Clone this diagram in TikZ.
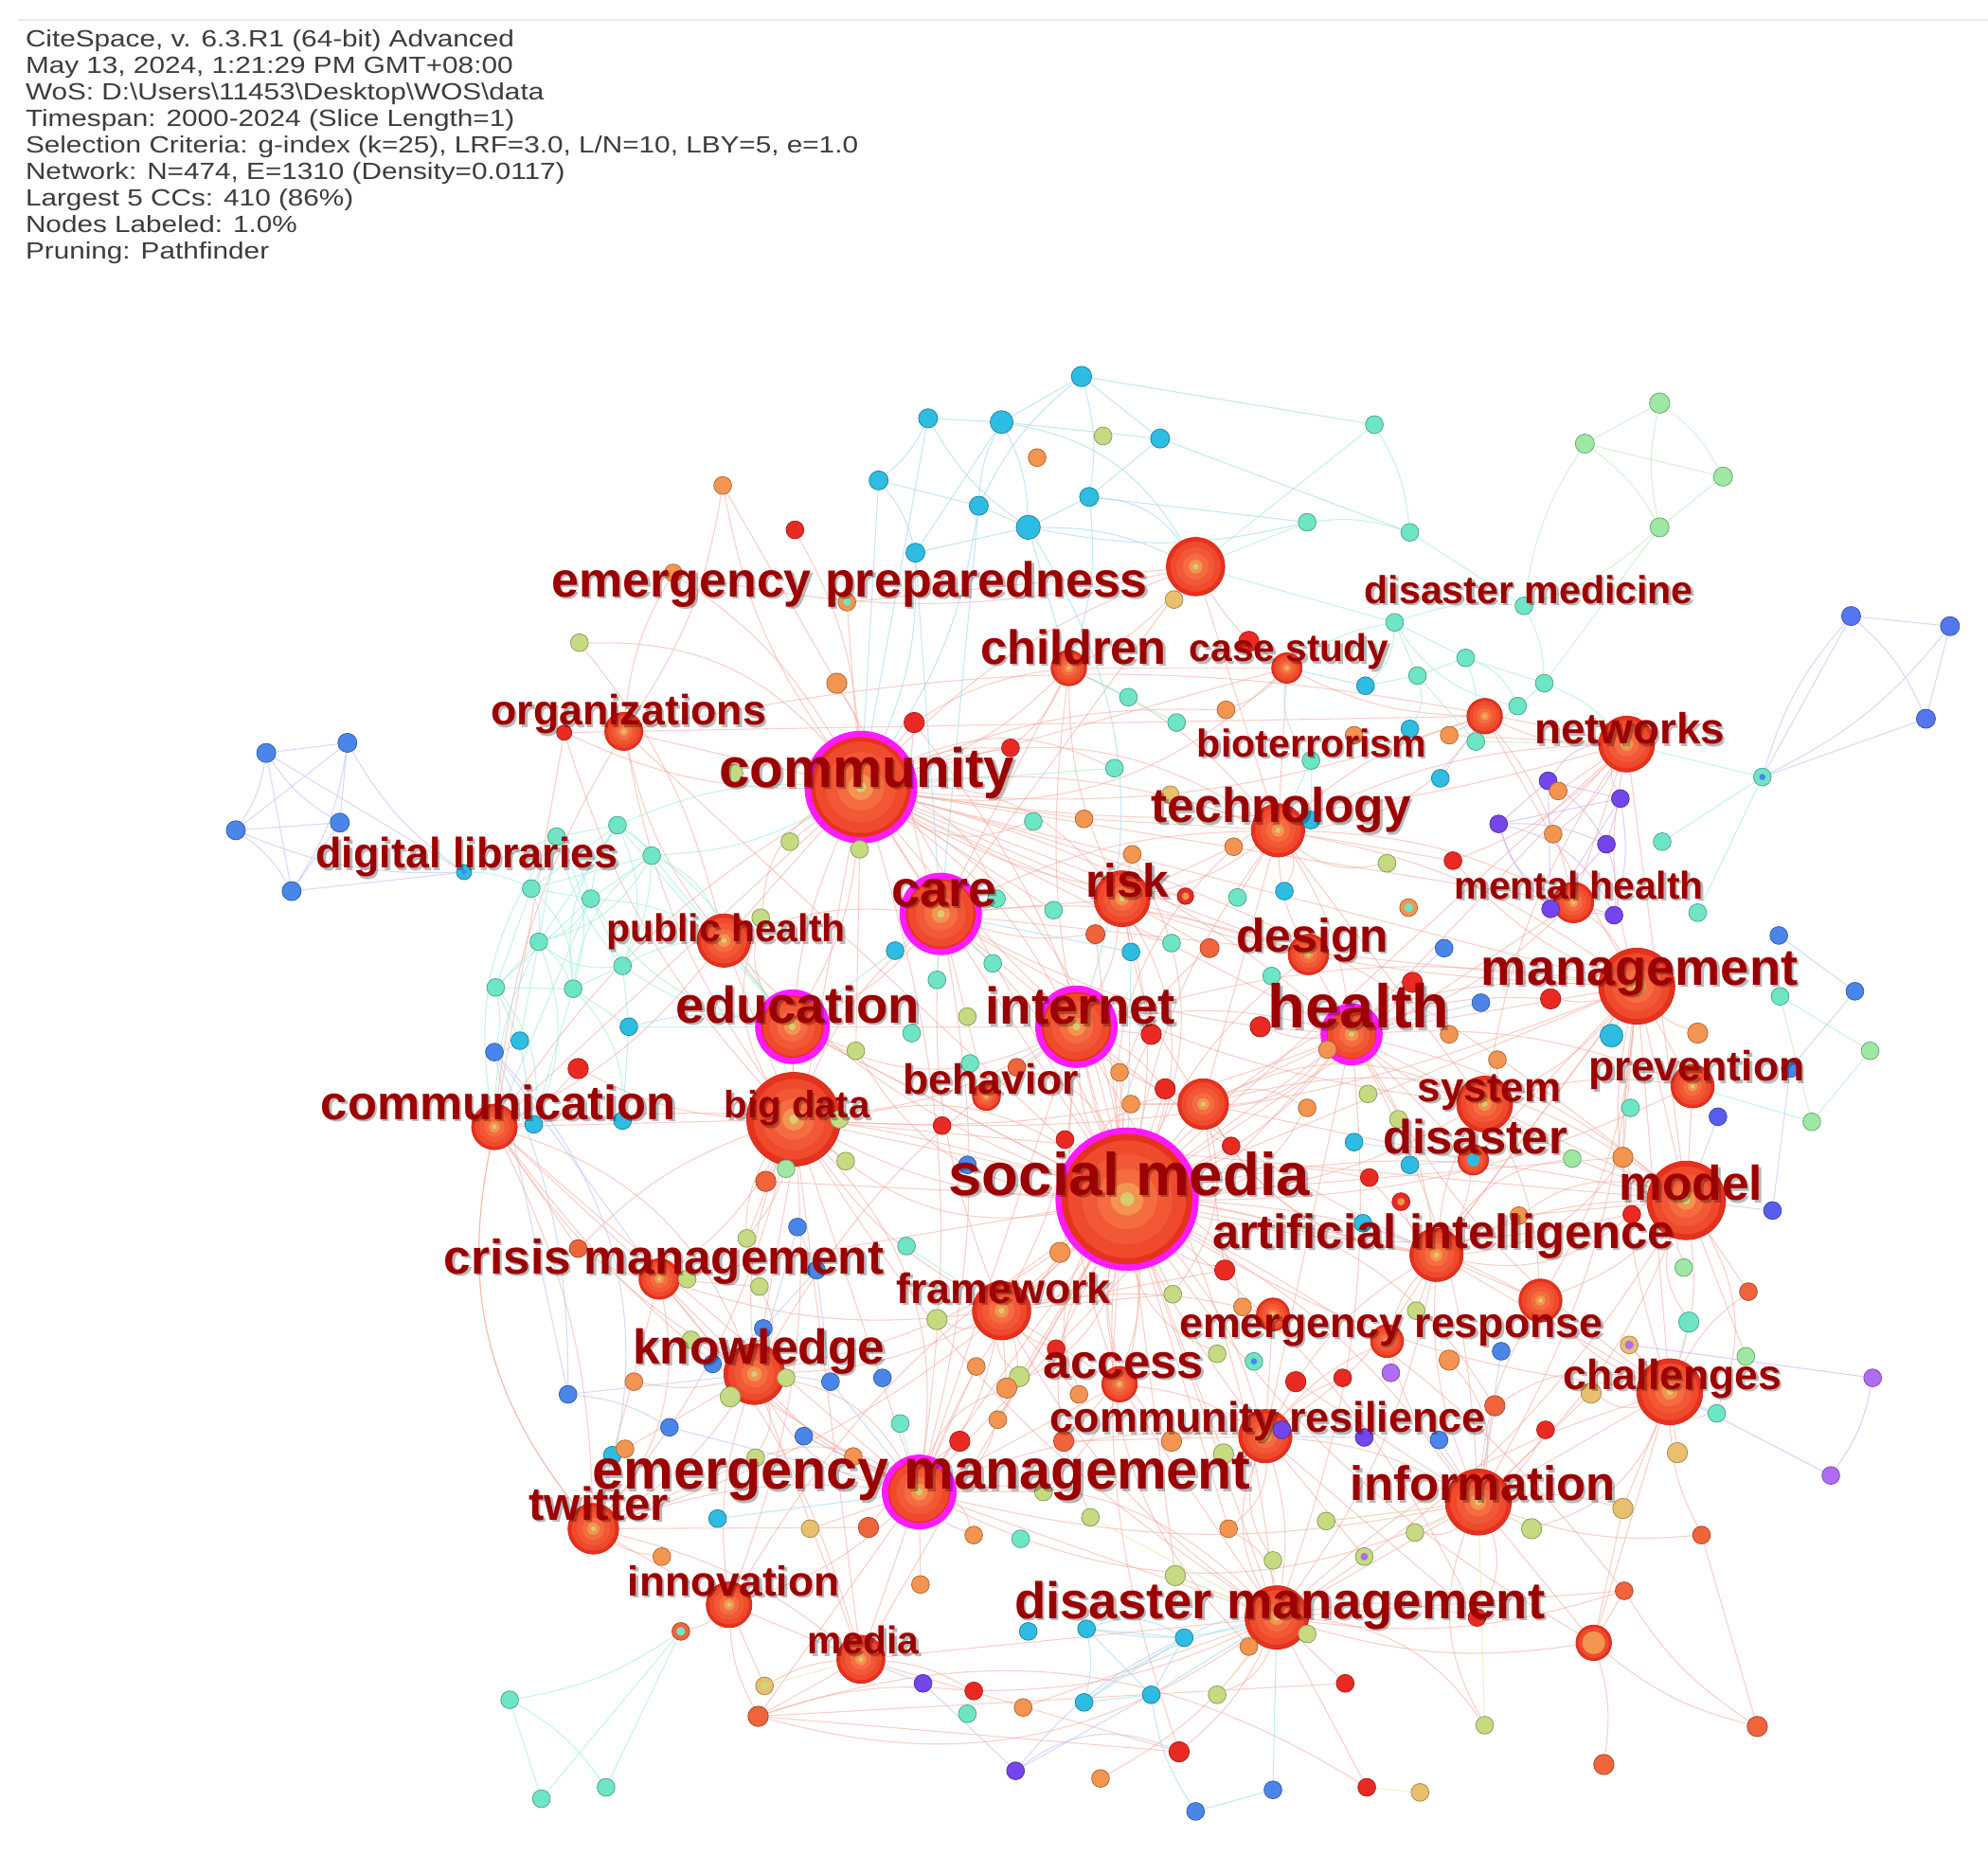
\documentclass[tikz,border=0pt]{standalone}
\usepackage{fontspec}
\setmainfont{Liberation Sans}
\newfontfamily\hdrfont[FakeStretch=1.2]{Liberation Sans}
\usetikzlibrary{backgrounds}
\definecolor{Cy}{HTML}{2EBCE2}
\definecolor{Mi}{HTML}{6EE6C6}
\definecolor{Gr}{HTML}{9EE8A4}
\definecolor{YG}{HTML}{C6DA82}
\definecolor{Tn}{HTML}{E8C06E}
\definecolor{Or}{HTML}{F39550}
\definecolor{OR}{HTML}{F0643C}
\definecolor{Re}{HTML}{EA2A22}
\definecolor{Bl}{HTML}{4A86EA}
\definecolor{Bb}{HTML}{5576EE}
\definecolor{In}{HTML}{5A5CF0}
\definecolor{Pu}{HTML}{7345EA}
\definecolor{Vi}{HTML}{B06CF2}
\definecolor{HubA}{HTML}{E5321F}
\definecolor{HubE}{HTML}{D42A1A}
\definecolor{HubB}{HTML}{EF4A2C}
\definecolor{HubC}{HTML}{F25836}
\definecolor{HubD}{HTML}{F46C40}
\definecolor{HubF}{HTML}{F49450}
\definecolor{HubG}{HTML}{D8CC72}
\definecolor{Mag}{HTML}{FF1AFF}
\definecolor{LabR}{HTML}{9C0000}
\definecolor{HdrG}{HTML}{3C3C3C}
\definecolor{EdP}{HTML}{F6A89C}
\definecolor{EdM}{HTML}{9EEED8}
\definecolor{EdC}{HTML}{9ED8F0}
\definecolor{EdL}{HTML}{B8C4F6}
\definecolor{EdV}{HTML}{CDB4F6}
\definecolor{EdG}{HTML}{B8ECBC}
\definecolor{EdY}{HTML}{E4ECB0}
\definecolor{TopL}{HTML}{E6ECF6}
\newcommand\edgeset[3]{\foreach \h/\L in {#3}{\foreach \t [count=\i] in \L {\pgfmathtruncatemacro\bb{(mod(\i,3)-1)*#2}\draw[#1] (\h) to[bend left=\bb] (\t);}}}
\begin{document}
\begin{tikzpicture}[x=1pt,y=-1pt,
  sn/.style={circle,inner sep=0pt,fill=#1,draw=#1!72!black,line width=.6pt},
  hubst/.style={circle,inner sep=0pt,fill=HubA,draw=HubE,line width=.6pt},
  ring/.style={draw=Mag,line width=5pt},
  labtxt/.style={inner sep=0pt,anchor=base west,text=LabR},
  labshd/.style={inner sep=0pt,anchor=base west,text=black,text opacity=.28},
  hdr/.style={inner sep=0pt,anchor=base west,text=HdrG,font=\hdrfont\fontsize{18.5}{20}\selectfont},
  pe/.style={draw=EdP,line width=.8pt,opacity=.55},
  me/.style={draw=EdM,line width=.8pt,opacity=.6},
  ce/.style={draw=EdC,line width=.8pt,opacity=.6},
  le/.style={draw=EdL,line width=.8pt,opacity=.6},
  ve/.style={draw=EdV,line width=.8pt,opacity=.65},
  ge/.style={draw=EdG,line width=.8pt,opacity=.6},
  ye/.style={draw=EdY,line width=.8pt,opacity=.7}]
\useasboundingbox (0,0) rectangle (1568,1463);
\draw[TopL,line width=1.4pt] (14,16) -- (1568,16);
% header
\foreach \i/\t in {
1/{CiteSpace, v. 6.3.R1 (64-bit) Advanced},
2/{May 13, 2024, 1:21:29 PM GMT+08:00},
3/{WoS: D:\textbackslash Users\textbackslash 11453\textbackslash Desktop\textbackslash WOS\textbackslash data},
4/{Timespan: 2000-2024 (Slice Length=1)},
5/{Selection Criteria: g-index (k=25), LRF=3.0, L/N=10, LBY=5, e=1.0},
6/{Network: N=474, E=1310 (Density=0.0117)},
7/{Largest 5 CCs: 410 (86\%)},
8/{Nodes Labeled: 1.0\%},
9/{Pruning: Pathfinder}}
{\node[hdr] (h\i) at (20,{37+20.9*(\i-1)}) {\t};}
% hubs
\foreach \n/\x/\y/\r/\m in {
SM/889/946/54/1, CO/679/621/42/1, BD/626/883/37/0, CA/742/721/30/1, ED/625/810/27/1,
IN/849/810/30/1, HE/1066/816/22/1, MA/1291/778/30/0, MO/1330/947/31/0, EP/943/447/23/0,
EM/725/1177/27/1, DM/1007/1276/25/0, IF/1166/1185/26/0, CH/1317/1098/26/0, NW/1283/587/22/0,
TE/1008/655/21/0, RI/885/709/22/0, FR/790/1034/23/0, KN/595/1084/24/0, CM/390/889/18/0,
CR/520/1009/16/0, TW/468/1206/20/0, IV/575/1266/18/0, ME/679/1309/19/0, PH/571/742/21/0,
OG/492/577/15/0, CD/843/527/14/0, CS/1015/527/12/0, SY/1171/871/22/0, DI/1162/915/12/0,
AI/1133/990/21/0, CRS/998/1133/21/0, ER/1094/1058/13/0, ERR/1004/1037/13/0, PR/1335/857/17/0,
MH/1241/712/16/0, DE/1032/753/16/0, AC/883/1092/14/0, BE/778/865/11/0, H1/949/871/20/0,
H2/1171/565/14/0, H3/1215/1026/17/0, H4/1257/1296/14/0}
{
 \node[hubst,minimum size=2*\r] (\n) at (\x,\y) {};
 \pgfmathsetmacro\ra{0.86*\r}\pgfmathsetmacro\rb{0.66*\r}\pgfmathsetmacro\rc{0.44*\r}
 \pgfmathsetmacro\rd{0.24*\r}\pgfmathsetmacro\re{0.1*\r}
 \fill[HubB] (\x,\y) circle[radius=\ra pt];
 \fill[HubC] (\x,\y) circle[radius=\rb pt];
 \fill[HubD] (\x,\y) circle[radius=\rc pt];
 \fill[HubF] (\x,\y) circle[radius=\rd pt];
 \fill[HubG] (\x,\y) circle[radius=\re pt];
 \ifnum\m=1 \draw[ring] (\x,\y) circle[radius=\r pt]; \fi
}
\fill[Or] (H4) circle[radius=9pt];
\fill[HubF] (H4) circle[radius=4pt];
\fill[Cy] (DI) circle[radius=5pt];
% small nodes
\foreach \n/\x/\y/\r/\c in {
t1/853/297/8/Cy, t2/732/330/7.5/Cy, t3/790/333/9/Cy, t4/693/379/7.5/Cy, t5/772/399/7.5/Cy, t6/811/416/9.5/Cy, t7/859/392/7.5/Cy, t8/915/346/7.5/Cy, t9/722/436/7.5/Cy, t10/818/361/7/Or, t11/870/344/7/YG,
u1/1084/335/7/Mi, u2/1031/412/7/Mi, u3/1112/420/7/Mi,
g1/1309/318/8/Gr, g2/1250/350/7.5/Gr, g3/1359/376/7.5/Gr, g4/1309/416/7.5/Gr,
q1/1460/486/7.5/Bb, q2/1538/494/7.5/Bb, q3/1519/567/7.5/Bb, q4/1390/613/7/Mi,
l1/210/594/7.5/Bl, l2/274/586/7.5/Bl, l3/186/655/7.5/Bl, l4/268/649/7.5/Bl, l5/230/703/7.5/Bl,
a1/570/383/7/Or, a2/627/418/7/Re, a3/531/452/7/Or, a4/668/475/7/Or, a5/457/507/7/YG, a6/660/539/8/Or, a7/445/578/6/Re, a8/721/570/8/Re, a9/797/590/7/Re, a10/926/473/7/Tn, a11/985/506/8/Re,
k1/487/651/7/Mi, k2/439/660/7/Mi, k3/514/675/7/Mi, k4/419/701/7/Mi, k5/466/709/7/Mi, k6/425/743/7/Mi, k7/491/762/7/Mi, k8/391/779/7/Mi, k9/452/780/7/Mi, k10/366/688/6/Cy, k11/623/664/7/YG, k12/678/670/7/YG, k13/579/610/7/YG, k14/600/724/7/YG,
e1/1100/491/7/Mi, e2/1156/519/7/Mi, e3/1118/533/7/Mi, e4/1077/541/7/Cy, e5/1218/539/7/Mi, e6/1197/557/7/Mi, e7/1202/478/7/Mi, e8/1143/580/7/Or, e9/1164/585/7/Mi, e10/1112/575/7/Cy, e11/1068/580/7/Or, e12/1034/600/7/Mi, e13/1136/614/7/Cy, e14/890/550/7/Mi, e15/928/570/7/Mi, e16/967/560/7/Or, e17/879/606/7/Mi, e18/815/648/7/Mi, e19/855/646/7/Or, e20/923/627/7/Tn, e21/1034/647/7/Cy, e22/973/668/7/Or, e23/893/674/7/Or, e24/1094/681/7/YG, e25/1146/679/7/Re,
p1/1182/650/7/Pu, p2/1221/616/7/Pu, p3/1229/624/7/Or, p4/1278/630/7/Pu, p5/1225/658/7/Or, p6/1267/666/7/Pu, p7/1311/664/7/Mi, p8/1223/717/7/Pu, p9/1273/722/7/Pu, p10/1339/720/7/Mi, p11/1403/738/7/Bl,
f1/935/707/6.5/Re, f2/976/708/7/Mi, f3/1013/703/7/Cy, f4/1111/716/7/Or, f5/831/718/7/Mi, f6/864/737/7.5/OR, f7/924/744/7/Mi, f8/954/748/7.5/OR, f9/892/751/7/Cy, f10/1139/748/7/Bl, f11/786/709/7/Mi, f12/706/750/7/Cy, f13/783/760/7/Mi, f14/1003/770/7/Mi, f15/1168/791/7/Bl, f16/1114/775/8/Re, f17/739/773/7/Mi, f18/763/802/7/YG, f19/719/815/7/Mi, f20/908/816/8/Re, f21/994/810/8/Re, f22/1047/828/7/Or, f23/1143/816/7/Or, f24/1181/836/7/Or, f25/765/839/7/Mi, f26/802/842/7/OR, f27/883/846/7/Or, f28/892/871/7/Or, f29/919/859/8/Re, f30/1079/863/7/YG, f31/1031/874/7/Or, f32/743/888/7/Re, f33/840/899/7/Re, f34/971/904/7/Re, f35/1068/901/7/Cy, f36/1103/883/7/YG, f37/1112/919/7/Cy, f38/763/919/7/Bl, f39/1080/929/7/Re, f40/1105/948/7/Re, f41/1075/965/7/Cy, f42/836/988/8/Or, f43/715/983/7/Mi, f44/966/1002/8/Re, f45/1198/959/7/Or, f46/925/1021/7/YG, f47/739/1041/8/YG, f48/980/1031/7/Or, f49/1117/1034/7/YG, f50/1184/1066/7/Bl, f51/960/1068/7/YG, f52/989/1074/7/Mi, f53/833/1064/7/Re, f54/770/1078/7/Or, f55/804/1086/8/YG, f56/794/1095/8/Or, f57/696/1087/7/Bl, f58/1022/1090/8/Re, f59/1059/1087/7/Re, f60/1097/1083/7/Vi, f61/1143/1073/8/Or, f62/851/1100/7/Or, f63/710/1123/7/Mi, f64/787/1120/7/Or, f65/757/1137/8/Re, f66/839/1137/8/OR, f67/924/1137/8/Or, f68/1011/1128/7/Pu, f69/1076/1134/7/Pu, f70/1135/1136/7/Bl, f71/965/1147/8/YG, f72/823/1177/7/YG, f73/860/1197/7/YG, f74/1046/1200/7/YG, f75/1116/1209/7/YG, f76/969/1206/7/Or, f77/768/1211/7/Or, f78/805/1214/7/Mi,
r1/1463/782/7/Bl, r2/1404/786/7/Mi, r3/1223/788/8/Re, r5/1271/817/9/Cy, r6/1339/815/8/Or, r7/1475/829/7/Gr, r8/1412/843/7/Bl, r9/1286/874/7/Mi, r10/1355/881/7/In, r11/1429/885/7/Gr, r12/1240/914/7/Gr, r13/1280/913/8/Or, r14/1398/955/7/In, r15/1287/958/7/Re, r17/1328/1000/7/Gr, r18/1379/1019/7/OR, r19/1332/1043/8/Mi, r20/1285/1061/7/Tn, r21/1377/1070/7/Gr, r22/1477/1087/7/Vi, r23/1255/1099/8/Tn, r24/1354/1115/7/Mi, r25/1179/1109/8/OR, r26/1219/1128/7/Re, r27/1323/1146/8/Tn, r28/1444/1164/7/Vi, r29/1280/1190/8/Tn, r30/1208/1206/8/YG, r31/1342/1211/7/OR, r33/1281/1255/7/OR, r34/1386/1362/8/OR, r35/1265/1392/8/OR,
w1/390/830/7/Bl, w2/410/821/7/Cy, w3/496/810/7/Cy, w4/456/843/8/Re, w5/421/887/7/Cy, w6/491/884/7/Cy, w7/675/829/7/YG, w8/662/883/7/YG, w9/667/916/7/YG, w10/620/922/7/Gr, w11/604/932/8/OR, w12/629/968/7/Bl, w13/589/977/7/YG, w14/456/985/7/OR, w15/542/1009/7/YG, w16/599/1015/7/YG, w17/644/1002/7/Bl, w18/602/1048/7/Bl, w19/545/1057/7/YG, w20/576/1102/8/YG, w21/620/1087/7/YG, w22/562/1076/7/Bl, w23/655/1090/7/Bl, w25/500/1090/7/Or, w26/448/1100/7/Bl, w27/528/1126/7/Bl, w28/634/1133/7/Bl, w29/483/1148/7/Cy, w30/493/1143/7/Or, w31/596/1150/7/YG, w32/673/1149/7/Or, w33/566/1198/7/Cy, w34/639/1206/7/Tn, w35/685/1205/8/OR,
v1/522/1228/7/Or, v2/537/1287/7/OR, v3/402/1341/7/Mi, v4/427/1419/7/Mi, v5/478/1410/7/Mi, v6/603/1330/7/Tn, v7/598/1354/8/OR, v8/728/1328/7/Pu, v9/768/1334/7/Re, v10/763/1352/7/Mi, v11/807/1347/7/Or, v12/801/1397/7/Pu, v13/726/1250/7/Or, v14/811/1287/7/Cy,
x1/1004/1231/7/YG, x2/1076/1228/7/YG, x3/927/1243/8/YG, x4/1165/1276/7/Re, x5/857/1285/7/Cy, x6/934/1292/7/Cy, x7/985/1299/7/Or, x8/1031/1289/7/YG, x9/1061/1328/7/Re, x10/855/1343/7/Cy, x11/908/1337/7/Cy, x12/960/1337/7/YG, x13/1171/1361/7/YG, x14/930/1382/8/Re, x15/868/1403/7/Or, x16/1078/1410/7/Re, x17/1120/1414/7/Tn, x18/1004/1412/7/Bl, x19/943/1429/7/Bl}
{\node[sn=\c,minimum size=2*\r] (\n) at (\x,\y) {};}
% node centres
\fill[Bl] (q4) circle[radius=2.5pt];
\fill[Bl] (f52) circle[radius=2.5pt];
\fill[Bl] (k10) circle[radius=2pt];
\fill[Vi] (r20) circle[radius=3.5pt];
\fill[Vi] (x2) circle[radius=3pt];
\fill[Mi] (v2) circle[radius=3.5pt];
\fill[Mi] (f4) circle[radius=3.5pt];
\fill[Mi] (a4) circle[radius=3pt];
\fill[Or] (f1) circle[radius=3pt];
\fill[Or] (f40) circle[radius=3pt];
\fill[YG] (v6) circle[radius=3pt];
% connectors
\begin{scope}[on background layer]
\fill[white] (0,0) rectangle (1568,1463);
\edgeset{pe}{12}{SM/{CO,BD,CA,ED,IN,HE,MA,MO,EM,DM,IF,CH,NW,TE,RI,FR,KN,CM,CR,TW,IV,ME,PH,SY,AI,CRS,PR,MH,DE,AC,H1,H3,H4,OG,CD,f44,f29,f33,f42,f53,x4,r15,w11,f20,a8,f34,f39,x14,v7,r33},
CO/{OG,a7,a6,a4,EP,CD,CA,ED,BD,PH,TE,NW,MH,HE,CM,KN,a1,a2,a8,a9,f1,RI,IN,MA,DE,EM,H2,CS,e16,a3,SY,MO,AI},
BD/{ED,CA,IN,CM,CR,KN,EM,TW,FR,w11,w4,w14,PH,OG,DM,ME,IV,HE,MO,a7,MA,AI,w13},
CA/{IN,ED,PH,RI,TE,HE,MA,EM,FR,CD,a8,f6,BE,DE,SY,EP},
IN/{ED,HE,RI,BE,FR,AC,EM,MA,KN,f20,f29,H1,f27,DM,CRS},
HE/{MA,MO,SY,DI,AI,TE,DE,PR,MH,NW,f21,f22,H1,IF,CH,CRS,r3,f16,EM,DM},
MA/{MO,NW,MH,PR,SY,CH,AI,r3,r15,r13,H3,TE,DI,IF,r6,H2,e25},
MO/{PR,CH,AI,SY,H3,r15,r18,IF,r17,f45,DM},
EM/{DM,KN,TW,ME,IV,FR,AC,CRS,w35,w32,f65,f77,v13,CR,IF,w34,CM},
DM/{IF,CH,CRS,ME,x4,x7,x9,x14,H4,AC,FR,AI,x16,v9,r33,v11,x15},
IF/{CH,AI,CRS,r30,r29,r26,r25,H3,r31,H4,ER},
NW/{MH,H2,TE,p3,p5,SY,e8,e25},
TE/{EP,RI,DE,CS,MH,e22,e19,H2,CD,e25},
RI/{DE,f1,f6,e23,CD,H1,f8},
FR/{AC,KN,f42,f44,CR,f53,f62,ERR},
KN/{CR,TW,IV,ME,w25,w20,w30,CM,w19},
CM/{CR,TW,w4,w14,OG,PH,a7},
CR/{TW,w14,w15,w16,ME},
TW/{IV,ME,v1,w35},
IV/{ME,v2,v7,v6},
ME/{v7,v9,v6,x14},
PH/{ED,OG,a5},
AI/{CH,SY,DI,H3,CRS,ER,f39,f40,f58},
CRS/{ERR,ER,AC,f58,f59,f67,x4},
CH/{r27,H3,r31,H4,r18},
H4/{r33,r35,r34,r29},
r34/{r31,r33},
EP/{a10,CD,CS,a4,a3},
CD/{CS,a9,a8},
CS/{a11,e16,H2},
H2/{e8,MH},
SY/{DI,PR,f24,r12,H3},
OG/{a7,a3,a1,H2,NW},
a1/{a6},
v7/{x14,v9}}
\edgeset{pe}{25}{SM/{f6,f8,f26,f27,f28,f31,f46,f48,f51,f55,f56,f62,f64,f66,f67,f71,f72,f73,f76,w7,w8,a6,e22,e23,r13,r25,x7,x3,MA,CO,HE},
CO/{k11,k12,k14,f5,f11,e18,e19,e17,a5,w7,TE,CS,MA},
H1/{f28,f31,f34,f44,f46,AI,DI,SY,f22,TE,MO},
AI/{f45,r12,r13,f49,H1,r15,MA},
IF/{f74,f75,x13,r23,x4,f61,f58,EM},
CRS/{f66,f71,x1,x2,f76,DM},
MO/{r12,r13,r19,r21,r24,f45,NW},
CH/{r20,r23,r24,r29,r30,r25,MA},
EM/{f54,f56,f64,f72,f77,w31,w28,KN,BD},
CM/{EM,KN,TW,CO},
BD/{w9,w10,w16,w13,k14,SM},
RI/{e22,e23,f7,f9,SM,CO},
TE/{e20,e21,e24,f2,f3,H2,SY},
DM/{x3,x12,f76,r33,x13,EM},
FR/{f46,f47,f55,f56,f64,SM},
KN/{w21,w31,w16,w19,EM},
v7/{x9,x16,DM},
TW/{w31,CM,CR},
ED/{w7,k14,IN,SM}}
\edgeset{me}{12}{k1/{k2,k3,k5,k6,CO},k2/{k4,k5,k7,k10},k3/{k5,k7,CO},k4/{k5,k6,k10},k5/{k7,PH},k6/{k8,k9,CM},k7/{k9,PH,ED},k8/{k9,w1},k9/{w5},u1/{EP,u3},u2/{EP,u3},u3/{e7},e1/{e2,e7,CS,EP},e2/{e3,e9},e3/{e4},e5/{e6,NW,e7},e6/{e9},e9/{NW},e12/{TE},e14/{CD},e15/{CD},e17/{CO},p7/{q4},p10/{q4},q4/{NW},r2/{r7},r11/{PR},v3/{v4,v5,v2},v5/{v2},v4/{v2},f43/{FR},f63/{EM},r19/{CH},r24/{CH}}
\edgeset{me}{22}{k1/{k4,k7,k9,ED,BD},k2/{k6,k9,CM},k3/{k4,k6,k9,ED,PH},k5/{k8,k6,ED,CM},k8/{w2,w5},k9/{w3,w6},k7/{w3},w3/{ED},k4/{k8,k9},k6/{w2,w5,k7},e1/{e3,e4,e6},e2/{e5,e6},e3/{e9,e10},e12/{e21,CS},f11/{CA},f13/{CA},f17/{CA}}
\edgeset{ce}{12}{t1/{t3,t7,t5,t8},t2/{t3,t4,t6},t3/{t8,t6,t5},t4/{t5,t9},t5/{t6,CO},t6/{t7,EP,u2},t7/{t8,CD},t9/{t6,CO},t8/{u3},w2/{w5,w1},w3/{w6,ED},f12/{CA},f9/{SM},e4/{CS},e13/{H2},f35/{DI},f37/{DI},f41/{AI},x5/{x6,x10,DM},x6/{x11,DM},x10/{x11,DM},x11/{DM},x19/{x18,x11},x18/{DM},w29/{TW},w33/{EM},r5/{MA}}
\edgeset{ce}{25}{t9/{CA},t6/{CD,IN},t2/{CO},t5/{CA},t4/{CO},t7/{u2,EP},t3/{t9,EP},t1/{u1},f9/{CA},f12/{ED},x5/{x11,x6},x10/{x6}}
\edgeset{le}{12}{l1/{l2,l3,l4,l5},l2/{l4,l5,k10},l3/{l4,l5,k10},l4/{l5},l5/{k10},q1/{q2,q3,q4},q2/{q3,q4},q3/{q4},p11/{r1},r1/{r8},r8/{r14},r14/{MO},r10/{MO},w1/{CR,w26},w26/{KN,w27},w22/{w18,KN},w18/{w17},w12/{w17},w17/{w23},w23/{EM},w28/{EM},w27/{EM},f10/{HE},f15/{HE},f50/{IF},f70/{IF},v12/{v8,x6},v8/{ME}}
\edgeset{le}{30}{l1/{k10},l2/{l3},q1/{q4},w1/{w26,TW},v12/{x11,x14},w12/{KN},w22/{w23}}
\edgeset{ve}{12}{p1/{p2,p6,p8},p2/{p4,p6},p4/{p6,p9},p6/{p8,p9},p8/{p9,MH},p9/{MH},f68/{CRS},f69/{CRS},f60/{ER},r22/{r20,r28},r28/{CH},r20/{CH}}
\edgeset{ve}{25}{p1/{p4,p9,MH},p2/{p8,NW},p4/{p8,NW}}
\edgeset{ge}{12}{g1/{g2,g3,g4},g2/{g3,g4,e7},g3/{g4},g4/{e5,e7},r2/{r11},r7/{r11}}
\edgeset{ye}{12}{f71/{CRS},f73/{DM},x1/{DM},x3/{DM},x8/{DM},x12/{DM},x13/{IF},v6/{ME},f74/{IF},f75/{IF},r30/{IF},x17/{x16}}
\end{scope}
% labels
\foreach \n/\x/\y/\s/\t in {
L1/435/471/38.8/emergency preparedness, L2/1076/476/30.7/disaster medicine, L3/773/524/37.8/children,
L4/938/522/30.4/case study, L5/387/572/33.4/organizations, L6/1210/587/34.2/networks,
L7/944/597/30.7/bioterrorism, L8/567/621/43.7/community, L9/908/649/38.4/technology,
L10/249/685/33.5/digital libraries, L11/856/708/37/risk, L12/1147/709/30.5/mental health,
L13/703/715/40.3/care, L14/478/743/30.6/public health, L15/975/751/37.2/design,
L16/1168/777/40.5/management, L17/533/807/40.7/education, L18/777/808/40.9/internet,
L19/1000/811/48.6/health, L20/1253/853/33.3/prevention, L21/712/863/33.3/behavior,
L22/1118/869/32.8/system, L23/253/883/37.9/communication, L24/571/882/30/big data,
L25/1091/910/37.8/disaster, L26/748/943/47.5/social media, L27/1277/947/38.4/model,
L28/956/985/37.9/artificial intelligence, L29/350/1005/38.3/crisis management, L30/707/1028/33.4/framework,
L31/930/1055/33.4/emergency response, L32/499/1076/38.5/knowledge, L33/823/1087/37.8/access,
L34/1233/1096/33.3/challenges, L35/828/1130/33.6/community resilience, L36/467/1175/44.3/emergency management,
L37/417/1199/36.7/twitter, L38/1065/1184/38/information, L39/495/1259/33/innovation,
L40/800/1277/40.7/disaster management, L41/637/1305/30.4/media}
{
 \node[labshd,font=\bfseries\fontsize{\s}{\s}\selectfont] (\n-s) at ({\x+1.8},{\y+1.8}) {\t};
 \node[labtxt,font=\bfseries\fontsize{\s}{\s}\selectfont] (\n) at (\x,\y) {\t};
}
\end{tikzpicture}
\end{document}
